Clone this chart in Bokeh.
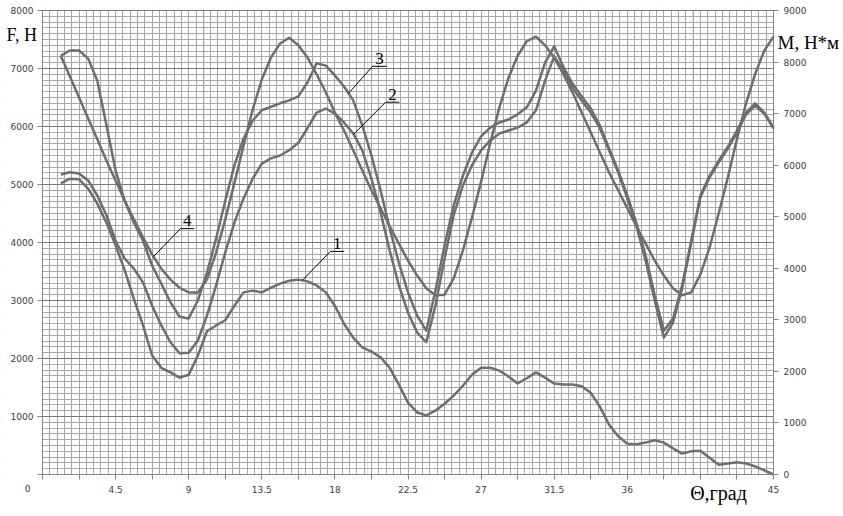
import numpy as np
from bokeh.plotting import figure
from bokeh.models import Range1d, LinearAxis, FixedTicker, Label, Grid, BoxAnnotation
from bokeh.core.properties import value
from bokeh.embed import file_html
from bokeh.resources import INLINE

# ---- data (left axis units F, H) ----
theta = [1.125, 1.6875, 2.25, 2.8125, 3.375, 3.9375, 4.5, 5.0625, 5.625, 6.1875,
         6.75, 7.3125, 7.875, 8.4375, 9.0, 9.5625, 10.125, 10.6875, 11.25, 11.8125,
         12.375, 12.9375, 13.5, 14.0625, 14.625, 15.1875, 15.75, 16.3125, 16.875, 17.4375,
         18.0, 18.5625, 19.125, 19.6875, 20.25, 20.8125, 21.375, 21.9375, 22.5, 23.0625,
         23.625, 24.1875, 24.75, 25.3125, 25.875, 26.4375, 27.0, 27.5625, 28.125, 28.6875,
         29.25, 29.8125, 30.375, 30.9375, 31.5, 32.0625, 32.625, 33.1875, 33.75, 34.3125,
         34.875, 35.4375, 36.0, 36.5625, 37.125, 37.6875, 38.25, 38.8125, 39.375, 39.9375,
         40.5, 41.0625, 41.625, 42.1875, 42.75, 43.3125, 43.875, 44.4375, 45.0]

curve1 = [5020, 5100, 5090, 4930, 4670, 4340, 3950, 3520, 3030, 2570, 2050, 1840, 1760, 1670, 1720,
          2050, 2470, 2570, 2660, 2910, 3140, 3170, 3140, 3220, 3290, 3340, 3360, 3330, 3260, 3140,
          2910, 2600, 2360, 2190, 2120, 2020, 1840, 1550, 1240, 1070, 1020, 1100, 1220, 1360, 1530,
          1720, 1840, 1840, 1790, 1690, 1570, 1660, 1760, 1670, 1570, 1550, 1550, 1520, 1410, 1170,
          860, 660, 530, 520, 550, 590, 550, 450, 360, 400, 410, 290, 170, 190, 210,
          190, 140, 70, 0]

curve2 = [5170, 5210, 5190, 5070, 4810, 4470, 4030, 3720, 3550, 3310, 2910, 2570, 2280, 2090, 2100,
          2310, 2740, 3260, 3830, 4340, 4760, 5100, 5360, 5450, 5500, 5590, 5720, 5970, 6240, 6310,
          6220, 6070, 5880, 5590, 5100, 4520, 3860, 3260, 2790, 2450, 2280, 2910, 3720, 4470, 4980,
          5330, 5590, 5760, 5880, 5930, 5980, 6070, 6280, 6790, 7210, 6970, 6670, 6450, 6240, 5970,
          5590, 5210, 4760, 4280, 3690, 3000, 2360, 2620, 3210, 4000, 4780, 5120, 5380, 5620, 5900,
          6210, 6360, 6220, 5970]

curve3 = [7220, 7310, 7310, 7170, 6790, 6020, 5240, 4720, 4340, 4030, 3600, 3290, 2970, 2720, 2690,
          3000, 3480, 4070, 4720, 5330, 5790, 6100, 6280, 6340, 6400, 6450, 6520, 6760, 7090, 7050,
          6880, 6690, 6450, 6020, 5500, 4900, 4240, 3650, 3140, 2740, 2480, 3170, 3950, 4640, 5150,
          5550, 5830, 5980, 6070, 6120, 6210, 6330, 6620, 7100, 7380, 7030, 6740, 6520, 6310, 6020,
          5620, 5240, 4810, 4340, 3780, 3090, 2480, 2690, 3260, 4030, 4810, 5150, 5410, 5650, 5930,
          6240, 6400, 6240, 5980]

curve4 = [7220, 6860, 6500, 6140, 5780, 5410, 5070, 4720, 4400, 4090, 3790, 3550, 3360, 3220, 3140,
          3140, 3360, 3830, 4400, 5020, 5670, 6290, 6810, 7190, 7430, 7530, 7400, 7190, 6900, 6590,
          6240, 5930, 5590, 5240, 4900, 4590, 4280, 3980, 3690, 3430, 3210, 3090, 3100, 3380, 3860,
          4430, 5050, 5710, 6330, 6840, 7220, 7470, 7550, 7400, 7190, 6900, 6590, 6240, 5900, 5550,
          5210, 4900, 4590, 4280, 3980, 3690, 3430, 3210, 3090, 3140, 3450, 3910, 4500, 5120, 5780,
          6400, 6910, 7310, 7550]

x_ticks = [0, 2.25, 4.5, 6.75, 9, 11.25, 13.5, 15.75, 18, 20.25, 22.5, 24.75,
           27, 29.25, 31.5, 33.75, 36, 38.25, 40.5, 42.75, 45]
x_labels = ["", "", "4.5", "", "9", "", "13.5", "", "18", "", "22.5", "",
            "27", "", "31.5", "", "36", "", "", "", "45"]
f_ticks = [0, 1000, 2000, 3000, 4000, 5000, 6000, 7000, 8000]
m_ticks = [0, 1000, 2000, 3000, 4000, 5000, 6000, 7000, 8000, 9000]

# curve labels: name, theta where the leader meets the curve, series, leader dx (deg), dy (F units)
callouts = [("1", 16.0, curve1, 1.72, 500), ("2", 19.15, curve2, 1.97, 552),
            ("3", 18.84, curve3, 1.48, 466), ("4", 6.83, curve4, 1.66, 483)]

# ---- geometry: the frame fills the whole canvas, the chart box sits inside it ----
W, H = 843, 516
BOX_L, BOX_R, BOX_T, BOX_B = 42, 773, 10, 474     # pixel edges of the plotting box
X0, X1, F1, M1 = 0.0, 45.0, 8000.0, 9000.0
sx = (X1 - X0) / (BOX_R - BOX_L)
sf = F1 / (BOX_B - BOX_T)
sm = M1 / (BOX_B - BOX_T)
x_range = Range1d(X0 - BOX_L * sx, X1 + (W - BOX_R) * sx)
y_range = Range1d(-(H - BOX_B) * sf, F1 + BOX_T * sf)
m_range = Range1d(-(H - BOX_B) * sm, M1 + BOX_T * sm)

p = figure(width=W, height=H, output_backend="svg", toolbar_location=None,
           x_range=x_range, y_range=y_range,
           x_axis_location=None, y_axis_location=None,
           min_border_left=0, min_border_right=0, min_border_top=0, min_border_bottom=0)
p.background_fill_color = "white"
p.border_fill_color = "white"
p.outline_line_color = None
p.extra_y_ranges = {"m": m_range}

axis_col = "#858585"
lab_col = "#3c3c3c"
serif = "Liberation Serif"

# grids
vgrid = Grid(dimension=0, ticker=FixedTicker(ticks=list(np.round(np.arange(0, 45.0001, 0.45), 4))),
             grid_line_color="#a8a8a8", grid_line_width=1)
hgrid = Grid(dimension=1, ticker=FixedTicker(ticks=f_ticks, minor_ticks=list(range(0, 8001, 100))),
             grid_line_color="#7a7a7a", minor_grid_line_color="#a8a8a8")
p.add_layout(vgrid)
p.add_layout(hgrid)

# white masks outside the plotting box (keep grid inside the box only)
eps_x, eps_y = 0.6 * sx, 0.6 * sf
for kw in (dict(left=-100, right=X0 - eps_x, bottom=-1e5, top=1e5),
           dict(left=X1 + eps_x, right=100, bottom=-1e5, top=1e5),
           dict(left=-100, right=100, bottom=F1 + eps_y, top=1e5),
           dict(left=-100, right=100, bottom=-1e5, top=-eps_y)):
    p.add_layout(BoxAnnotation(fill_color="white", fill_alpha=1.0, line_color=None,
                               level="underlay", **kw))

# axes at fixed positions on the box edges
xa = LinearAxis(fixed_location=0, bounds=(X0, X1), ticker=FixedTicker(ticks=x_ticks),
                major_label_overrides={t: l for t, l in zip(x_ticks, x_labels)})
xa.major_label_standoff = 6
ya = LinearAxis(fixed_location=X0, bounds=(0, F1), ticker=FixedTicker(ticks=f_ticks),
                major_label_overrides={0: ""})
ya.major_label_standoff = 4
ra = LinearAxis(fixed_location=X1, y_range_name="m", bounds=(0, M1),
                ticker=FixedTicker(ticks=m_ticks))
ra.major_label_standoff = 5
for ax in (xa, ya, ra):
    ax.axis_line_color = axis_col
    ax.major_tick_line_color = axis_col
    ax.minor_tick_line_color = None
    ax.major_tick_in = 0
    ax.major_tick_out = 5
    ax.major_label_text_font = "DejaVu Sans"
    ax.major_label_text_font_size = "9px"
    ax.major_label_text_color = lab_col
p.add_layout(xa, "below")
p.add_layout(ya, "left")
p.add_layout(ra, "right")

# curves
line_col = "#6e6e6e"
for c in (curve1, curve2, curve3, curve4):
    p.line(theta, c, line_color=line_col, line_width=2.5, line_join="round")

# callouts (leader + underline + number)
ul = 0.85
for name, th, series, dx, dy in callouts:
    ay = float(np.interp(th, theta, series))
    x1, y1 = th + dx, ay + dy
    p.segment(x0=[th, x1], y0=[ay, y1], x1=[x1, x1 + ul], y1=[y1, y1],
              line_color="black", line_width=1)
    p.text(x=[x1 + ul / 2], y=[y1 + 40], text=[name], text_align="center",
           text_baseline="bottom", text_font=value(serif),
           text_font_size="17px", text_color="black")

# axis titles and the lone "0"
px2x = lambda px: X0 + (px - BOX_L) * sx
py2f = lambda py: (BOX_B - py) * sf
p.add_layout(Label(x=px2x(6), y=py2f(34), text="F, Н", text_font=serif, text_font_size="18px",
                   text_baseline="alphabetic", text_align="left", text_color="black"))
p.add_layout(Label(x=px2x(777), y=py2f(42), text="M, Н*м", text_font=serif, text_font_size="19px",
                   text_baseline="alphabetic", text_align="left", text_color="black"))
p.add_layout(Label(x=px2x(718), y=py2f(492), text="Θ,град", text_font=serif, text_font_size="20px",
                   text_baseline="alphabetic", text_align="center", text_color="black"))
p.add_layout(Label(x=px2x(27), y=py2f(488), text="0", text_font="DejaVu Sans", text_font_size="9px",
                   text_baseline="middle", text_align="center", text_color=lab_col))

open("out.html", "w").write(file_html(p, INLINE))
